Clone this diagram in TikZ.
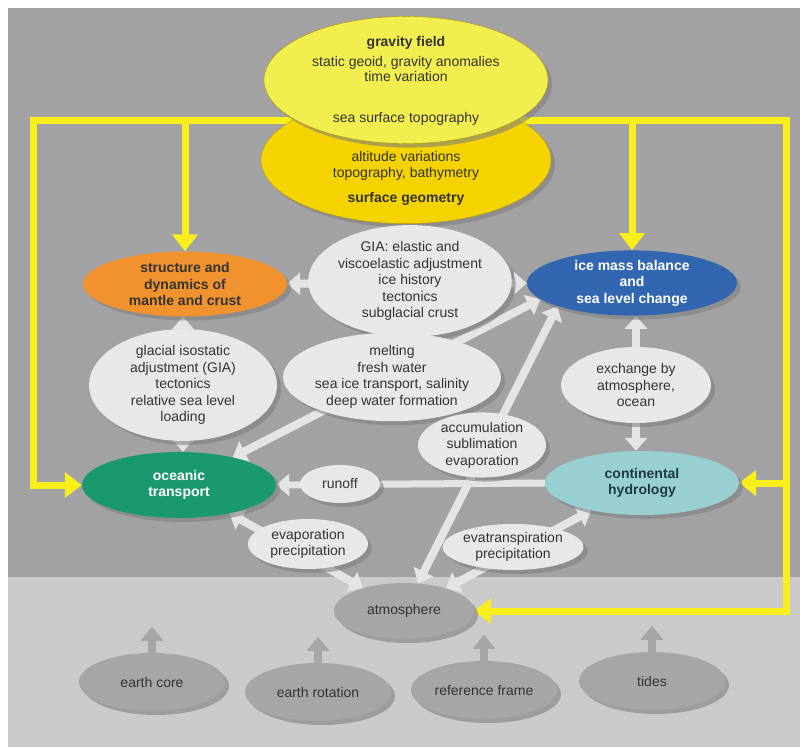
\documentclass[tikz,border=0pt]{standalone}
\usepackage{fontspec}
\setmainfont{Liberation Sans}
\usetikzlibrary{arrows.meta,shapes.geometric,shadows}
\definecolor{panelgray}{HTML}{A2A2A4}
\definecolor{basegray}{HTML}{CACACA}
\definecolor{bubgray}{HTML}{E8E8E8}
\definecolor{linkgray}{HTML}{E4E4E4}
\definecolor{lemon}{HTML}{F2EE50}
\definecolor{gold}{HTML}{F5D300}
\definecolor{linkyel}{HTML}{F7EE1C}
\definecolor{mantleor}{HTML}{F0922E}
\definecolor{iceblue}{HTML}{3366B0}
\definecolor{oceangr}{HTML}{1A9970}
\definecolor{hydrocy}{HTML}{98D0D2}
\definecolor{earthgr}{HTML}{A6A6A6}
\definecolor{txtgray}{HTML}{333333}
\definecolor{hydrotxt}{HTML}{1E3A40}
\pgfdeclarelayer{panel}
\pgfdeclarelayer{links}
\pgfsetlayers{panel,links,main}

\begin{document}
\begin{tikzpicture}[x=1pt,y=-1pt,
  blob/.style={ellipse,inner sep=0pt,align=center,text=txtgray,font=\fontsize{14}{16.5}\selectfont,
    drop shadow={shadow xshift=4pt,shadow yshift=-4pt,opacity=0.6}},
  note/.style={blob,fill=bubgray},
  topic/.style={blob,font=\fontsize{14}{16.5}\selectfont\bfseries},
  earth/.style={blob,fill=earthgr,minimum width=146pt,minimum height=58pt},
  link/.style={draw=linkgray,line width=8pt,{Triangle[width=22pt,length=13pt]}-{Triangle[width=22pt,length=13pt]}},
  oneway/.style={draw=linkgray,line width=7pt,-{Triangle[width=22pt,length=13pt]}},
  upper/.style={draw=earthgr,line width=8pt,-{Triangle[width=22pt,length=14pt]}},
  ylink/.style={draw=linkyel,line width=7pt,-{Triangle[width=25pt,length=17pt]}}]
\useasboundingbox (0,0) rectangle (804,749);
\begin{pgfonlayer}{panel}
\fill[panelgray] (8,8) rectangle (800,577);
\fill[basegray] (8,577) rectangle (800,747);
\end{pgfonlayer}

\node[blob,fill=gold,draw=gold!75!black,minimum width=290pt,minimum height=124pt] (gsurf) at (406,160)
  {\rule{0pt}{46pt}altitude variations\\[-0.5pt]topography, bathymetry\\[8.5pt]\textbf{surface geometry}};
\node[blob,fill=lemon,draw=gold!70!black,minimum width=284pt,minimum height=124pt] (gfield) at (406,80)
  {\rule{0pt}{11pt}\textbf{gravity field}\\[3.5pt]static geoid, gravity anomalies\\[-1.5pt]time variation\\[24.5pt]sea surface topography};

\node[topic,fill=mantleor,text=black!80,minimum width=204pt,minimum height=65pt] (mantle) at (185,284) {structure and\\dynamics of\\mantle and crust};
\node[topic,fill=iceblue,text=white,minimum width=210pt,minimum height=64pt] (ice) at (632,283) {ice mass balance\\and\\sea level change};
\node[topic,fill=oceangr,text=white,minimum width=194pt,minimum height=66pt] (ocean) at (179,485) {oceanic\\transport};
\node[topic,fill=hydrocy,text=hydrotxt,minimum width=194pt,minimum height=64pt] (hydro) at (642,483) {continental\\hydrology};

\node[note,minimum width=194pt,minimum height=98pt] (gia) at (410,281) {GIA: elastic and\\viscoelastic adjustment\\ice history\\tectonics\\subglacial crust};
\node[note,minimum width=188pt,minimum height=88pt] (gla) at (183,385) {glacial isostatic\\adjustment (GIA)\\tectonics\\relative sea level\\loading};
\node[note,minimum width=185pt,minimum height=86pt] (melt) at (392,377) {melting\\fresh water\\sea ice transport, salinity\\deep water formation};
\node[note,minimum width=150pt,minimum height=76pt] (exch) at (636,385) {exchange by\\atmosphere,\\ocean};
\node[note,minimum width=128pt,minimum height=56pt] (accu) at (482,445) {accumulation\\sublimation\\evaporation};
\node[note,minimum width=80pt,minimum height=38pt] (runoff) at (340,484) {runoff};
\node[note,minimum width=120pt,minimum height=50pt] (evap) at (308,544) {evaporation\\precipitation};
\node[note,minimum width=132pt,minimum height=46pt] (evtr) at (513,547) {evatranspiration\\precipitation};

\node[blob,fill=earthgr,minimum width=140pt,minimum height=56pt] (atmo) at (404,611) {atmosphere};
\node[earth] (core) at (152,682) {earth core};
\node[earth] (rot) at (318,692) {earth rotation};
\node[earth] (frame) at (484,690) {reference frame};
\node[earth] (tides) at (652,681) {tides};

\begin{pgfonlayer}{links}
\coordinate (yl) at (33,121);
\coordinate (yr) at (786,121);
\draw[ylink] (gfield |- yl) -| (mantle.north);
\draw[ylink] (mantle |- yl) -- (yl) |- (ocean.west);
\draw[ylink] (gfield |- yr) -| (ice.north);
\draw[ylink] (ice |- yr) -- (yr) |- (hydro.east);
\draw[ylink] (hydro.east -| yr) |- (atmo.east);
\draw[link] (mantle) -- (ice);
\draw[link] (gla |- mantle.south) -- (gla |- ocean.north);
\draw[link] (exch |- ice.south) -- (exch |- hydro.north);
\draw[link] (ocean) -- (ice.190);
\draw[oneway] (hydro.west) -- (ocean.east);
\draw[link] (atmo) -- (ice.south west);
\draw[link] (ocean) -- (atmo);
\draw[link] (hydro) -- (atmo);
\foreach \n in {core,rot,frame,tides} {
  \coordinate (\n top) at ([yshift=26pt]\n.north);
  \draw[upper] (\n.north) -- (\n top);
}
\end{pgfonlayer}
\end{tikzpicture}
\end{document}
